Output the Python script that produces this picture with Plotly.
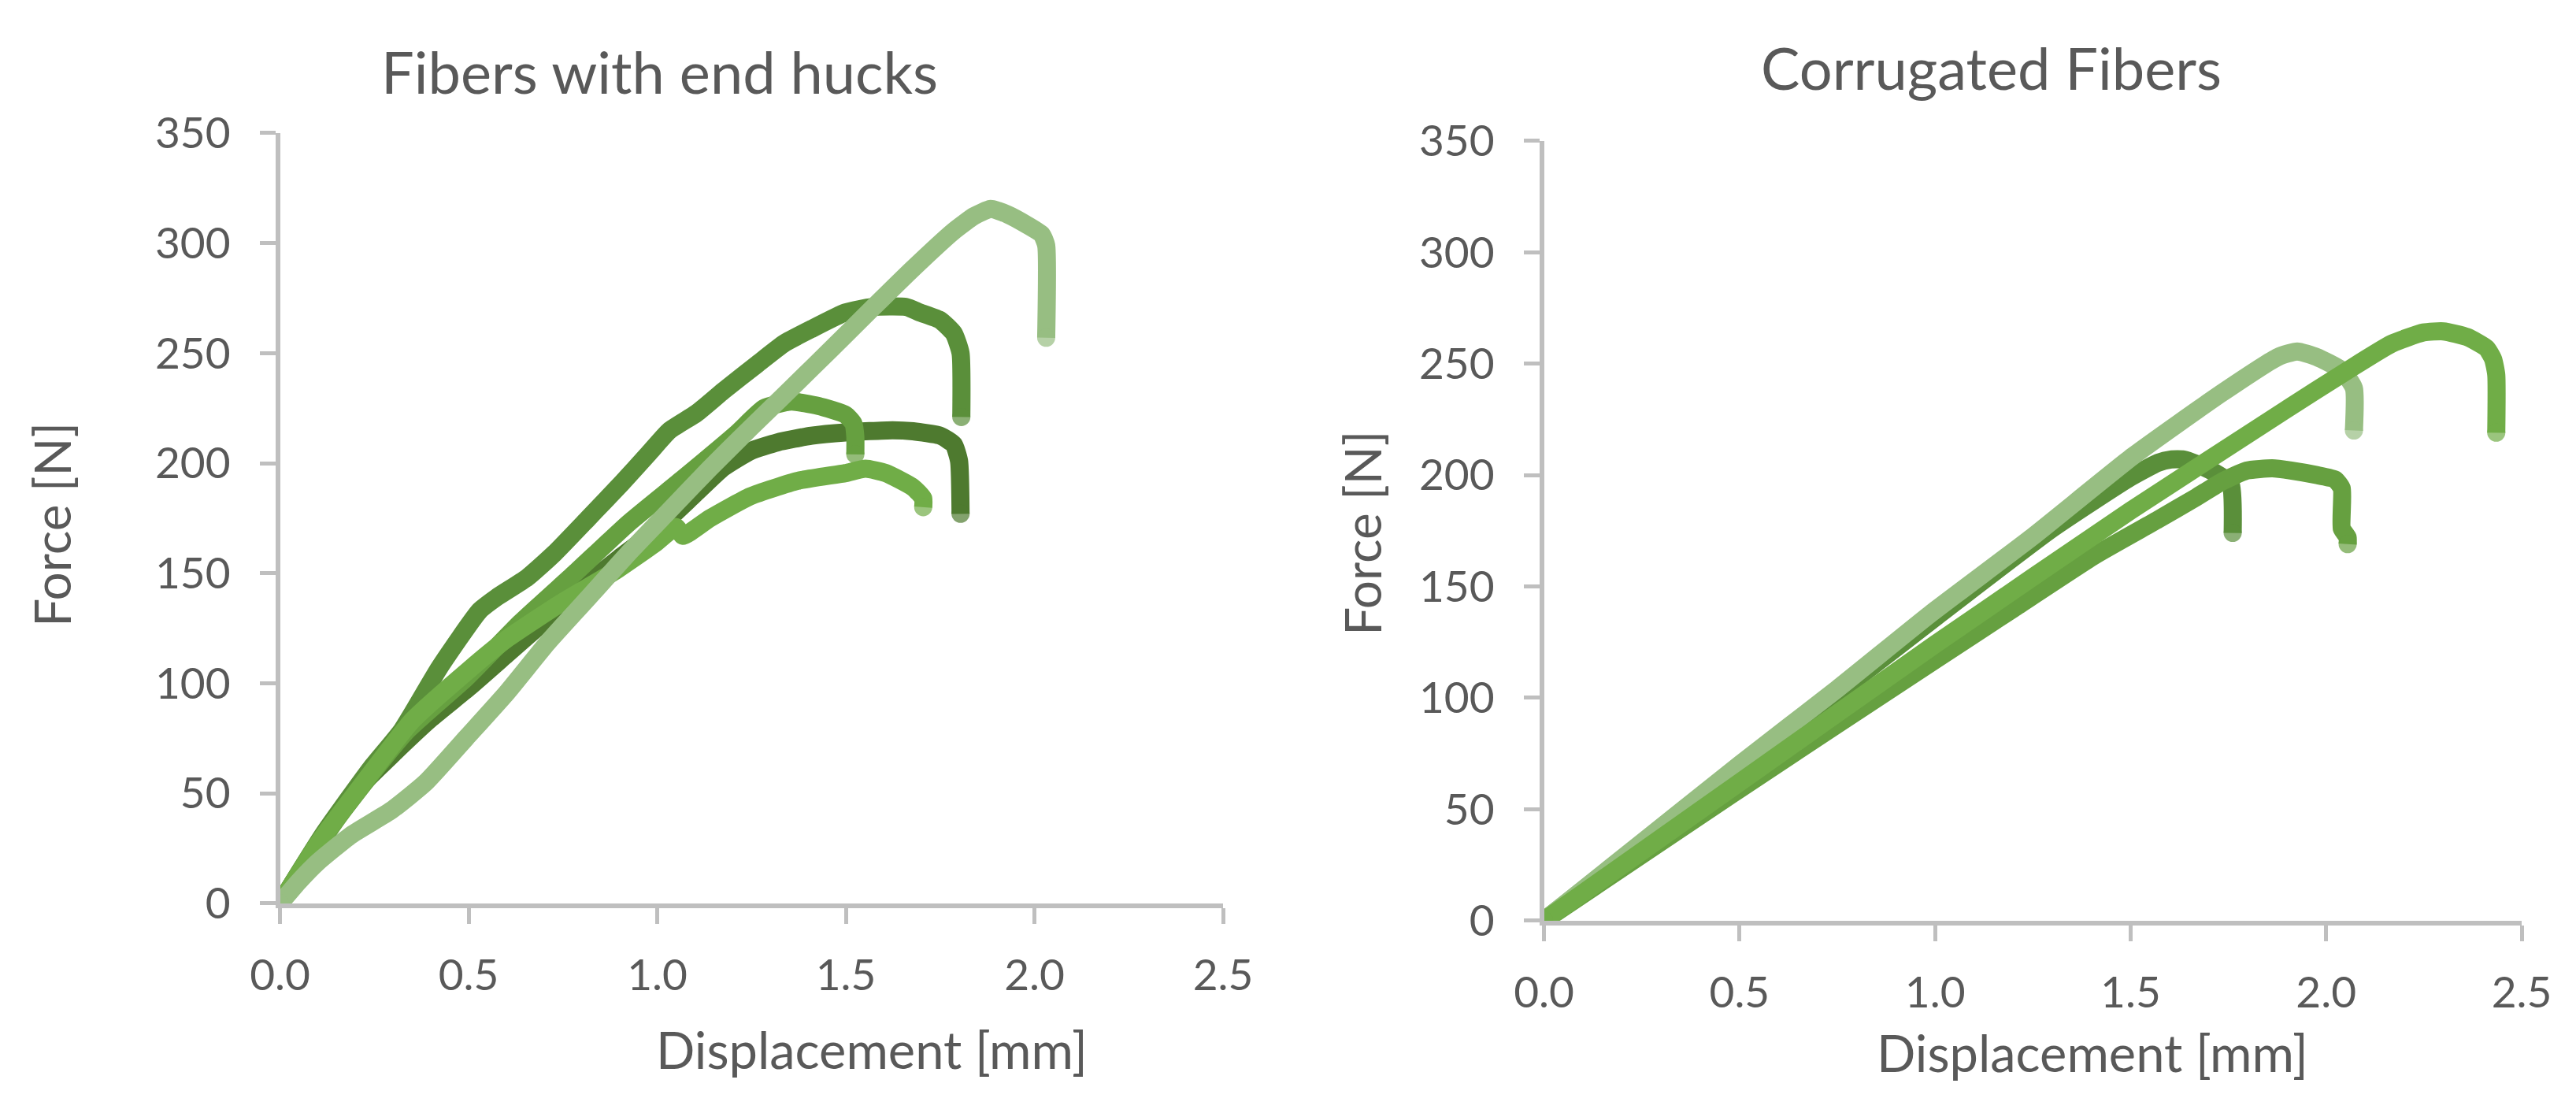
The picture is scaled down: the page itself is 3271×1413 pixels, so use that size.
import plotly.graph_objects as go

# Fibers with end hucks - displacement [mm] / force [N]
hook1_x = [0, 0.117, 0.242, 0.323, 0.422, 0.529, 0.574, 0.655, 0.727, 0.817, 0.906, 0.978, 1.032,
           1.104, 1.176, 1.265, 1.337, 1.409, 1.499, 1.57, 1.66, 1.696, 1.75, 1.786, 1.804, 1.806]
hook1_f = [0, 32, 61.7, 78.7, 107, 133, 139, 148, 159, 175, 191, 204.6, 214.8,
           222.7, 233, 245, 254.5, 261, 268.5, 271, 271, 268.5, 265, 259, 250, 221]

hook2_x = [0, 0.1, 0.2, 0.3, 0.4, 0.5, 0.6, 0.7, 0.8, 0.9, 1.0, 1.1, 1.175, 1.247, 1.319,
           1.409, 1.499, 1.624, 1.678, 1.75, 1.786, 1.80, 1.804]
hook2_f = [0, 27, 51, 68, 84, 98, 113, 128, 143, 157, 170, 186, 198, 205.5, 209.5,
           212.5, 214, 215, 214.5, 212.5, 208.5, 201, 177]

hook3_x = [0, 0.153, 0.332, 0.494, 0.637, 0.781, 0.924, 1.068, 1.211, 1.283, 1.355, 1.427,
           1.499, 1.52, 1.525, 1.525]
hook3_f = [0, 39, 77.6, 102.5, 127.5, 150, 172.8, 193, 213.6, 225, 228, 226,
           222, 218, 212, 204]

hook4_x = [0, 0.1, 0.2, 0.35, 0.5, 0.6, 0.745, 0.888, 0.996, 1.05, 1.068, 1.14, 1.247,
           1.373, 1.499, 1.552, 1.606, 1.678, 1.705, 1.705]
hook4_f = [0, 27, 50, 83, 106, 120, 136.5, 151, 163.8, 171, 167, 175, 185,
           192, 195.5, 197.5, 195.5, 189, 184, 180]

hook5_x = [0, 0.05, 0.099, 0.188, 0.296, 0.386, 0.494, 0.601, 0.709, 0.817, 0.924, 1.032, 1.14,
           1.247, 1.355, 1.463, 1.57, 1.678, 1.786, 1.84, 1.884, 1.929, 1.983, 2.019, 2.031, 2.031]
hook5_f = [0, 10, 18.6, 31, 42.4, 54.9, 75.3, 95.7, 118.4, 138.8, 159.2, 178.5, 197.8,
           216, 234, 252.2, 270.4, 288.5, 305.5, 312.3, 315.5, 313, 308, 304, 299, 257]

# Corrugated fibers
corr1_x = [0, 0.25, 0.5, 0.75, 0.989, 1.247, 1.506, 1.733, 1.877, 1.926, 1.975, 2.04, 2.071, 2.071]
corr1_f = [0, 35, 70, 104, 137.8, 172, 208.5, 236.8, 253, 255.5, 253, 247, 239, 220]

corr2_x = [0, 0.5, 1.0, 1.3, 1.5, 1.57, 1.603, 1.635, 1.668, 1.716, 1.756, 1.761]
corr2_f = [0, 68, 136, 176, 199, 205.5, 207, 207, 205, 201, 196, 174]

corr3_x = [0, 0.5, 1.0, 1.5, 1.894, 2.055, 2.168, 2.249, 2.3, 2.36, 2.41, 2.427, 2.435, 2.435]
corr3_f = [0, 62, 124, 184, 229, 247, 259, 264, 264.5, 262, 257, 252, 245, 219]

corr4_x = [0, 0.5, 1.0, 1.2, 1.409, 1.57, 1.668, 1.733, 1.797, 1.862, 1.91, 1.975, 2.023,
           2.04, 2.04, 2.055, 2.055]
corr4_f = [0, 59, 117, 140, 164, 180, 190, 197, 202, 203, 202, 200, 198,
           194, 176, 172, 169]

x_ticks = [0, 0.5, 1.0, 1.5, 2.0, 2.5]
x_labels = ['0.0', '0.5', '1.0', '1.5', '2.0', '2.5']
y_ticks = [0, 50, 100, 150, 200, 250, 300, 350]

# where the plot paper lands in the photographed page (pixels)
OX, OY, PW, PH = 46, 33, 3183, 1342
FONT = "Lato"
TXT = "#595959"
GRID = "#BFBFBF"
LW = 23


def px(v):
    return (v - OX) / PW


def py(v):
    return 1 - (v - OY) / PH


def end_caps(x):
    # round ends like the original chart
    sizes = [0] * len(x)
    sizes[0] = sizes[-1] = LW
    return sizes


fig = go.Figure()

left = [(hook2_x, hook2_f, "#4E7A2F"), (hook1_x, hook1_f, "#5A8F3A"),
        (hook3_x, hook3_f, "#66A040"), (hook4_x, hook4_f, "#70AD47"),
        (hook5_x, hook5_f, "#97BE82")]
for x, f, c in left:
    fig.add_trace(go.Scatter(x=x, y=f, mode='lines+markers', xaxis='x', yaxis='y',
                             line=dict(color=c, width=LW, shape='spline', smoothing=0.5),
                             marker=dict(color=c, size=end_caps(x), line=dict(width=0)),
                             showlegend=False))

right = [(corr2_x, corr2_f, "#5A8F3A"), (corr4_x, corr4_f, "#66A040"),
         (corr1_x, corr1_f, "#97BE82"), (corr3_x, corr3_f, "#70AD47")]
for x, f, c in right:
    fig.add_trace(go.Scatter(x=x, y=f, mode='lines+markers', xaxis='x2', yaxis='y2',
                             line=dict(color=c, width=LW, shape='spline', smoothing=0.5),
                             marker=dict(color=c, size=end_caps(x), line=dict(width=0)),
                             showlegend=False))

xax = dict(range=[0, 2.5], tickvals=x_ticks, ticktext=x_labels,
           showgrid=False, zeroline=False, showline=True, linecolor=GRID, linewidth=6,
           ticks='outside', ticklen=20, tickwidth=5, tickcolor=GRID,
           tickfont=dict(family=FONT, size=55, color=TXT), ticklabelstandoff=18)
yax = dict(range=[0, 350], tickvals=y_ticks, showgrid=False, zeroline=False,
           showline=True, linecolor=GRID, linewidth=6,
           ticks='outside', ticklen=20, tickwidth=5, tickcolor=GRID,
           tickfont=dict(family=FONT, size=55, color=TXT), ticklabelstandoff=26)

fig.update_layout(
    margin=dict(l=0, r=0, t=0, b=0),
    plot_bgcolor='white', paper_bgcolor='white',
    xaxis=dict(xax, domain=[px(356), px(1555)], anchor='y'),
    yaxis=dict(yax, domain=[py(1146), py(160)], anchor='x'),
    xaxis2=dict(xax, domain=[px(1963), px(3206)], anchor='y2'),
    yaxis2=dict(yax, domain=[py(1168), py(170)], anchor='x2'),
)

labels = [
    ("Fibers with end hucks", 838, 81, 0, 74),
    ("Corrugated Fibers", 2532, 76, 0, 74),
    ("Displacement [mm]", 1108, 1333, 0, 65),
    ("Displacement [mm]", 2660, 1337, 0, 65),
    ("Force [N]", 66, 661, -90, 64),
    ("Force [N]", 1732, 672, -90, 64),
]
for text, x, y, ang, size in labels:
    fig.add_annotation(text=text, x=px(x), y=py(y), xref='paper', yref='paper',
                       xanchor='center', yanchor='middle', textangle=ang, showarrow=False,
                       font=dict(family=FONT, size=size, color=TXT))

fig.write_html("out.html")
